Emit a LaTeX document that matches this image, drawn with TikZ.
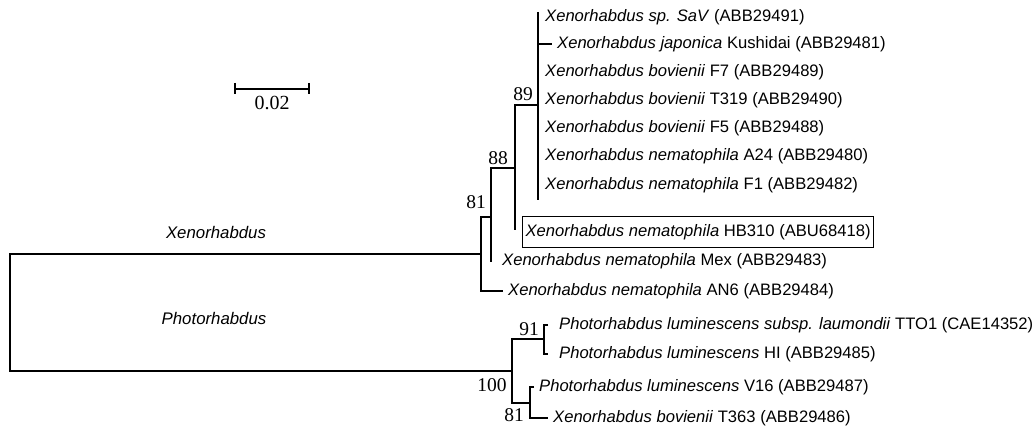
\documentclass[tikz,border=0pt]{standalone}
\usepackage{fontspec}
\setmainfont{Liberation Serif}
\setsansfont{Liberation Sans}
\begin{document}
\begin{tikzpicture}[x=1pt,y=-1pt,
  br/.style={line width=1.6pt},
  leaf/.style={anchor=west, inner xsep=5pt, inner ysep=0pt, font=\sffamily\fontsize{16.6}{20}\selectfont},
  boot/.style={inner sep=0pt, font=\fontsize{19.5}{21}\selectfont},
  grp/.style={inner sep=0pt, font=\sffamily\itshape\fontsize{16.8}{20}\selectfont},
  hbox/.style={draw, line width=1pt, inner xsep=3pt, minimum height=31pt}]
\useasboundingbox (0,0) rectangle (1036,430);
% internal nodes
\coordinate (root) at (10,312);
\coordinate (n81) at (481,254);
\coordinate (nMex) at (491,217);
\coordinate (nMexb) at (491,262);
\coordinate (n88) at (515,168);
\coordinate (n88b) at (515,230);
\coordinate (n89) at (538,105);
\coordinate (n89t) at (538,12);
\coordinate (n89b) at (538,200);
\coordinate (n100) at (512,371);
\coordinate (n91) at (544,339);
\coordinate (n81b) at (530,403);
% leaves
\node[leaf] (sav) at (540,17) {\textit{Xenorhabdus sp. SaV} (ABB29491)};
\node[leaf] (jap) at (552,44) {\textit{Xenorhabdus japonica} Kushidai (ABB29481)};
\node[leaf] (f7) at (540,72) {\textit{Xenorhabdus bovienii} F7 (ABB29489)};
\node[leaf] (t319) at (540,100) {\textit{Xenorhabdus bovienii} T319 (ABB29490)};
\node[leaf] (f5) at (540,128) {\textit{Xenorhabdus bovienii} F5 (ABB29488)};
\node[leaf] (a24) at (540,156) {\textit{Xenorhabdus nematophila} A24 (ABB29480)};
\node[leaf] (f1) at (540,185) {\textit{Xenorhabdus nematophila} F1 (ABB29482)};
\node[leaf, hbox] (hb) at (522,232.5) {\textit{Xenorhabdus nematophila} HB310 (ABU68418)};
\node[leaf] (mex) at (497,261) {\textit{Xenorhabdus nematophila} Mex (ABB29483)};
\node[leaf] (an6) at (503,291) {\textit{Xenorhabdus nematophila} AN6 (ABB29484)};
\node[leaf] (tto1) at (554,325) {\textit{Photorhabdus luminescens subsp. laumondii} TTO1 (CAE14352)};
\node[leaf] (hi) at (554,354) {\textit{Photorhabdus luminescens} HI (ABB29485)};
\node[leaf] (v16) at (534,387) {\textit{Photorhabdus luminescens} V16 (ABB29487)};
\node[leaf] (t363) at (548,418) {\textit{Xenorhabdus bovienii} T363 (ABB29486)};
% group labels
\node[grp] (xg) at (216,233) {Xenorhabdus};
\node[grp] (pg) at (214,318) {Photorhabdus};
% bootstrap values
\node[boot] (b81) at (476,202) {81};
\node[boot] (b88) at (498,158) {88};
\node[boot] (b89) at (523,94) {89};
\node[boot] (b91) at (529,329) {91};
\node[boot] (b100) at (492,385) {100};
\node[boot] (b81b) at (514,415) {81};
% scale bar
\coordinate (sb1) at (235,89);
\coordinate (sb2) at (309,89);
\draw[br] (sb1) -- (sb2);
\draw[br] ([yshift=6pt]sb1) -- ([yshift=-5pt]sb1);
\draw[br] ([yshift=6pt]sb2) -- ([yshift=-5pt]sb2);
\node[inner sep=0pt, font=\fontsize{20}{22}\selectfont] (sbl) at (272,103) {0.02};
% branches
\draw[br] (n89t) -- (n89b);
\draw[br] (jap.west -| n89) -- (jap.west);
\draw[br] (n89) -| (n88b);
\draw[br] (n88) -| (nMexb);
\draw[br] (nMex) -| (n81) |- (an6.west);
\draw[line width=2pt] (n81) -| (root) |- (n100);
\draw[br] (n91) -| (n100) |- (n81b);
\draw[br, shorten <=6pt, shorten >=6pt] (tto1.west) -| (n91) |- (hi.west);
\draw[br] (v16.west) -| (n81b) |- (t363.west);
\end{tikzpicture}
\end{document}
